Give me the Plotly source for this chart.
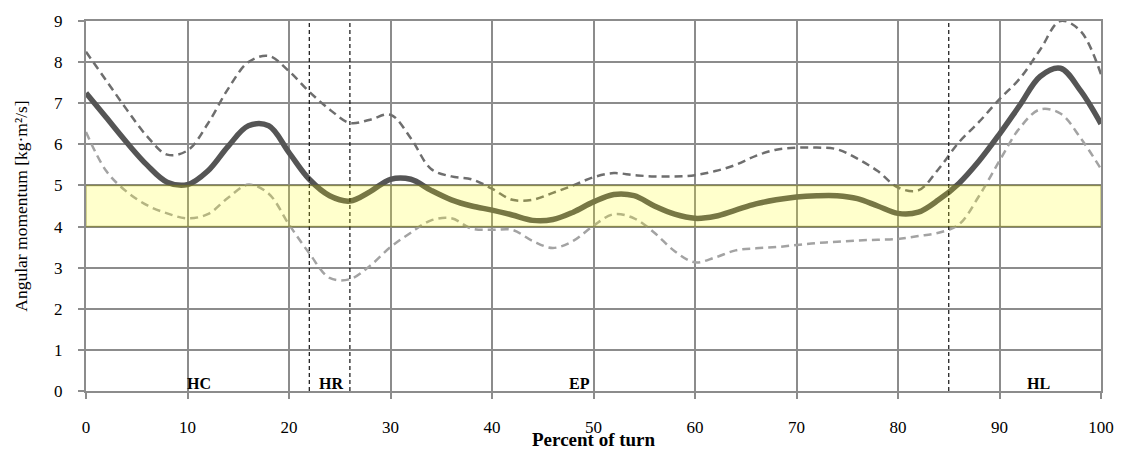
import plotly.graph_objects as go

# Percent of turn (sample positions)
pct = list(range(0, 101, 2))

# Mean angular momentum [kg·m²/s]
mean_am = [7.25, 6.65, 6.05, 5.5, 5.08, 5.02, 5.35, 5.95, 6.45, 6.45,
           5.8, 5.15, 4.75, 4.62, 4.85, 5.15, 5.15, 4.88, 4.65, 4.5,
           4.4, 4.28, 4.15, 4.17, 4.35, 4.6, 4.78, 4.75, 4.5, 4.3,
           4.2, 4.25, 4.4, 4.55, 4.65, 4.72, 4.75, 4.75, 4.68, 4.5,
           4.32, 4.35, 4.65, 5.05, 5.6, 6.25, 6.95, 7.65, 7.85, 7.3,
           6.5]

# Mean + SD
upper_am = [8.25, 7.55, 6.85, 6.2, 5.75, 5.85, 6.5, 7.35, 8.0, 8.15,
            7.78, 7.28, 6.85, 6.52, 6.6, 6.72, 6.15, 5.4, 5.22, 5.15,
            4.92, 4.65, 4.65, 4.82, 5.0, 5.2, 5.3, 5.25, 5.22, 5.22,
            5.25, 5.35, 5.5, 5.72, 5.87, 5.92, 5.92, 5.88, 5.65, 5.35,
            4.95, 4.88, 5.4, 6.05, 6.55, 7.1, 7.6, 8.3, 9.0, 8.75,
            7.7]

# Mean - SD
lower_am = [6.3, 5.35, 4.85, 4.52, 4.32, 4.2, 4.3, 4.7, 5.02, 4.8,
            4.05, 3.35, 2.75, 2.72, 3.05, 3.5, 3.85, 4.15, 4.2, 3.95,
            3.92, 3.92, 3.65, 3.48, 3.65, 4.02, 4.3, 4.2, 3.85, 3.4,
            3.13, 3.25, 3.42, 3.47, 3.5, 3.55, 3.6, 3.63, 3.66, 3.68,
            3.7, 3.77, 3.85, 4.05, 4.75, 5.6, 6.4, 6.85, 6.75, 6.15,
            5.4]

# Phase boundaries and phase labels
phase_bounds = [22, 26, 85]
phase_names = ["HC", "HR", "EP", "HL"]
phase_label_x = [11.1, 24.1, 48.6, 93.8]

# Reference range band
band_low, band_high = 4, 5

FONT = "Liberation Serif"
GRID = "#8c8c8c"

fig = go.Figure()

fig.add_trace(go.Scatter(x=pct, y=upper_am, mode="lines", line_shape="spline",
                         line=dict(color="#6e6e6e", width=2.5, dash="8px,5px"),
                         showlegend=False, hoverinfo="skip"))
fig.add_trace(go.Scatter(x=pct, y=lower_am, mode="lines", line_shape="spline",
                         line=dict(color="#a3a3a3", width=2.5, dash="8px,5px"),
                         showlegend=False, hoverinfo="skip"))
fig.add_trace(go.Scatter(x=pct, y=mean_am, mode="lines", line_shape="spline",
                         line=dict(color="#555555", width=5.5),
                         showlegend=False))

# Phase boundary lines
for b in phase_bounds:
    fig.add_shape(type="line", x0=b, x1=b, y0=0, y1=9, xref="x", yref="y",
                  line=dict(color="#111111", width=1.2, dash="4px,3px"),
                  layer="above")

# Semi-transparent reference band drawn over the curves
fig.add_shape(type="rect", x0=0, x1=100, y0=band_low, y1=band_high,
              xref="x", yref="y", layer="above",
              fillcolor="rgba(255,255,0,0.2)",
              line=dict(color="rgba(120,120,20,0.45)", width=1.5))

for name, xp in zip(phase_names, phase_label_x):
    fig.add_annotation(x=xp, y=0, xref="x", yref="y", text=f"<b>{name}</b>",
                       showarrow=False, yanchor="bottom", xanchor="center",
                       yshift=-3, font=dict(family=FONT, size=16, color="#000000"))

fig.add_annotation(x=0.5, y=0, xref="paper", yref="paper",
                   text="<b>Percent of turn</b>", showarrow=False,
                   yanchor="top", xanchor="center", yshift=-36,
                   font=dict(family=FONT, size=19, color="#000000"))

fig.update_layout(
    width=1126, height=451,
    margin=dict(l=86, r=21, t=15, b=60),
    paper_bgcolor="white", plot_bgcolor="white",
    font=dict(family=FONT, size=17, color="#000000"),
    xaxis=dict(range=[0, 100], tickvals=list(range(0, 101, 10)),
               showgrid=True, gridcolor=GRID, gridwidth=2,
               showline=True, linecolor=GRID, linewidth=2, mirror=True,
               ticks="outside", ticklen=6, tickcolor=GRID, tickwidth=2,
               ticklabelstandoff=14, zeroline=False,
               tickfont=dict(family=FONT, size=17)),
    yaxis=dict(range=[0, 9], tickvals=list(range(0, 10)),
               showgrid=True, gridcolor=GRID, gridwidth=2,
               showline=True, linecolor=GRID, linewidth=2, mirror=True,
               ticks="outside", ticklen=6, tickcolor=GRID, tickwidth=2,
               ticklabelstandoff=12, zeroline=False,
               tickfont=dict(family=FONT, size=17),
               title=dict(text="Angular momentum [kg·m²/s]",
                          font=dict(family=FONT, size=17.5), standoff=22)),
)

fig.write_html("out.html")
